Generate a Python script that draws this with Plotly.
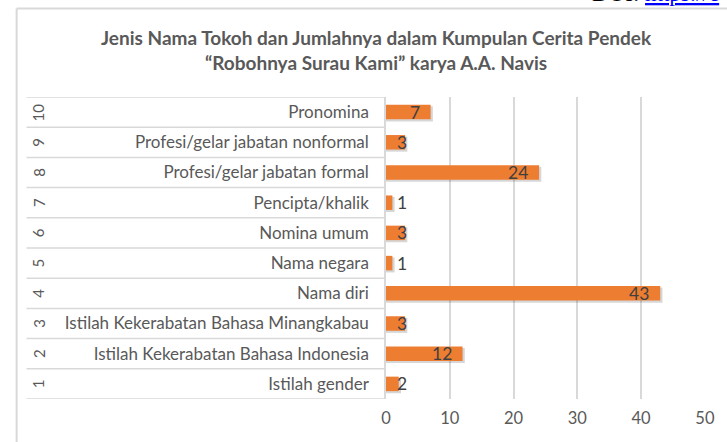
import plotly.graph_objects as go

numbers = [1, 2, 3, 4, 5, 6, 7, 8, 9, 10]
categories = [
    "Istilah gender",
    "Istilah Kekerabatan Bahasa Indonesia",
    "Istilah Kekerabatan Bahasa Minangkabau",
    "Nama diri",
    "Nama negara",
    "Nomina umum",
    "Pencipta/khalik",
    "Profesi/gelar jabatan formal",
    "Profesi/gelar jabatan nonformal",
    "Pronomina",
]
values = [2, 12, 3, 43, 1, 3, 1, 24, 3, 7]
x_ticks = [0, 10, 20, 30, 40, 50]
title_lines = [
    "Jenis Nama Tokoh dan Jumlahnya dalam Kumpulan Cerita Pendek",
    "“Robohnya Surau Kami” karya A.A. Navis",
]

W, H = 727, 442
ML, MR, MT, MB = 386, 18, 97, 43
PW = W - ML - MR
PH = H - MT - MB

def px_x(p):
    return (p - ML) / PW

def px_y(p):
    return (H - MB - p) / PH

FONT = "Lato, 'Open Sans', sans-serif"
GRAY = "#595959"
LINE = "#D9D9D9"

fig = go.Figure()

# soft shadow
fig.add_trace(go.Bar(
    x=[v + 0.35 for v in values], y=numbers, orientation="h",
    width=0.5, offset=-0.31,
    marker=dict(color="rgba(0,0,0,0.16)", line=dict(width=0)),
    hoverinfo="skip", showlegend=False,
))
fig.add_trace(go.Bar(
    x=values, y=numbers, orientation="h",
    width=0.48,
    marker=dict(color="#ED7D31", line=dict(width=0)),
    showlegend=False,
))

annotations = []
for n, v in zip(numbers, values):
    if v >= 5:
        annotations.append(dict(x=v, y=n, xref="x", yref="y", text=str(v),
                                showarrow=False, xanchor="right", xshift=-9,
                                font=dict(family=FONT, size=17.5, color="#404040")))
    else:
        annotations.append(dict(x=0, y=n, xref="x", yref="y", text=str(v),
                                showarrow=False, xanchor="left", xshift=9,
                                font=dict(family=FONT, size=17.5, color="#404040")))
    annotations.append(dict(x=px_x(34), y=n, xref="paper", yref="y", text=str(n),
                            showarrow=False, textangle=-90,
                            xanchor="center", yanchor="middle",
                            font=dict(family=FONT, size=15, color=GRAY)))

annotations.append(dict(
    x=px_x(376), y=px_y(50), xref="paper", yref="paper",
    text="<b>" + title_lines[0] + "<br>" + title_lines[1] + "</b>",
    showarrow=False, xanchor="center", yanchor="middle",
    font=dict(family=FONT, size=19, color=GRAY),
))
annotations.append(dict(
    x=px_x(593), y=px_y(8), xref="paper", yref="paper",
    text="DOI: <a href='#' style='color:#0000FF'><u>https://e</u></a>",
    showarrow=False, xanchor="left", yanchor="bottom",
    font=dict(family="Liberation Serif, serif", size=23, color="#000000"),
))

shapes = []
for k in range(len(numbers) + 1):
    yy = 0.5 + k
    shapes.append(dict(type="line", xref="paper", yref="y",
                       x0=px_x(22), x1=0, y0=yy, y1=yy,
                       line=dict(color=LINE, width=1.5)))
# chart frame (top and left edges)
shapes.append(dict(type="line", xref="paper", yref="paper",
                   x0=px_x(12), x1=1.2, y0=px_y(8.5), y1=px_y(8.5),
                   line=dict(color=LINE, width=2)))
shapes.append(dict(type="line", xref="paper", yref="paper",
                   x0=px_x(12), x1=px_x(12), y0=px_y(8.5), y1=-0.3,
                   line=dict(color=LINE, width=2)))

fig.update_layout(
    width=W, height=H,
    margin=dict(l=ML, r=MR, t=MT, b=MB, pad=0),
    paper_bgcolor="white", plot_bgcolor="white",
    barmode="overlay",
    annotations=annotations,
    shapes=shapes,
    xaxis=dict(range=[0, 50.02], tickvals=x_ticks, showgrid=True,
               gridcolor=LINE, gridwidth=1.5, zeroline=False, showline=False,
               ticks="", tickfont=dict(family=FONT, size=16.5, color=GRAY),
               ticklabelstandoff=7, fixedrange=True),
    yaxis=dict(range=[0.5, 10.5], tickvals=numbers, ticktext=categories,
               showgrid=False, zeroline=False, showline=True, linecolor=LINE,
               linewidth=1.5, ticks="", ticklabelstandoff=12,
               tickfont=dict(family=FONT, size=17, color=GRAY), fixedrange=True),
    bargap=0.5,
)

fig.write_html(
    "out.html",
    config={"displayModeBar": False},
    post_script="document.body.style.margin='0';document.body.style.overflow='hidden';",
)
